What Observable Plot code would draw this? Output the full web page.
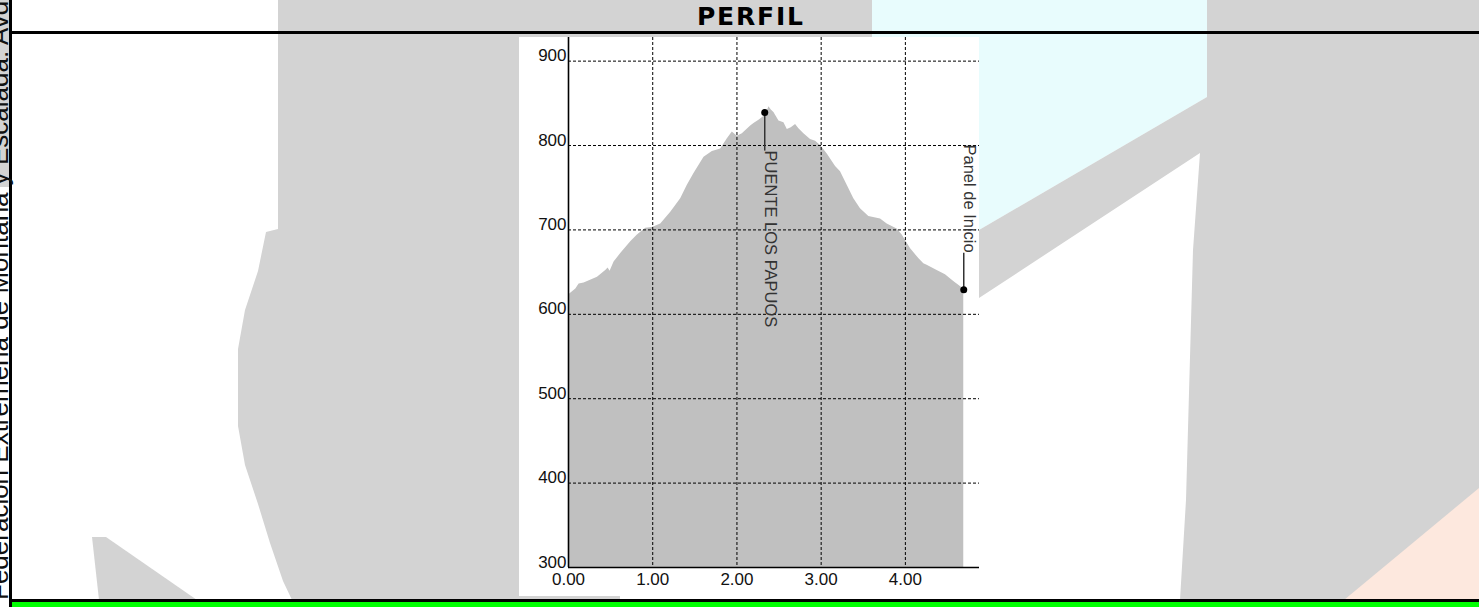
<!DOCTYPE html>
<html>
<head>
<meta charset="utf-8">
<script src="https://cdn.jsdelivr.net/npm/d3@7"></script>
<script src="https://cdn.jsdelivr.net/npm/@observablehq/plot@0.6"></script>
<style>
  html, body { margin: 0; padding: 0; background: #ffffff; }
  body { width: 1479px; height: 607px; position: relative; overflow: hidden; }
  #bg { position: absolute; left: 0; top: 0; }
  #chart { position: absolute; left: 519px; top: 37px; }
</style>
</head>
<body>
<svg id="bg" width="1479" height="607" xmlns="http://www.w3.org/2000/svg">
  <rect x="0" y="0" width="9" height="187" fill="#d3d3d3"/>
  <polygon fill="#d3d3d3" points="278,0 872,0 872,40 620,40 620,600 292,600 283,581 270,543 258,504 245,465 238,426 238,349 245,310 258,271 266,232 278,229"/>
  <polygon fill="#d3d3d3" points="92,537 106,537 197,600 99,600"/>
  <polygon fill="#e8fcfd" points="872,0 1207,0 1207,97 979,230 872,230"/>
  <polygon fill="#d3d3d3" points="1207,0 1479,0 1479,600 1180,600 1186,500 1193,250 1200,153 979,298 979,230 1207,97"/>
  <polygon fill="#fde8de" points="1479,488 1479,600 1344,600"/>
  <text x="697" y="25" font-family="'DejaVu Sans', Verdana, sans-serif" font-weight="bold" font-size="25" letter-spacing="1.8" fill="#000">PERFIL</text>
  <rect x="9" y="31" width="1470" height="3" fill="#000"/>
  <rect x="9" y="599" width="1470" height="3" fill="#000"/>
  <rect x="12" y="602" width="1467" height="5" fill="#00ff00"/>
  <rect x="9" y="0" width="3" height="607" fill="#000"/>
  <text transform="translate(8,600) rotate(-90)" font-family="'Liberation Sans', Arial, sans-serif" font-size="26" fill="#111">Federación Extremeña de Montaña y Escalada. Avd. Pierre de Coubertin s/n</text>
</svg>
<div id="chart"></div>
<script>
// Profile: distance (km) and elevation (m)
const distanceKm = [0, 0.087, 0.126, 0.185, 0.344, 0.442, 0.47, 0.494, 0.541, 0.62, 0.739, 0.818, 0.917, 0.996, 1.095, 1.214, 1.332, 1.411, 1.49, 1.609, 1.708, 1.807, 1.886, 1.945, 2.004, 2.064, 2.163, 2.202, 2.261, 2.34, 2.38, 2.408, 2.439, 2.499, 2.558, 2.598, 2.645, 2.696, 2.736, 2.795, 2.874, 2.934, 2.993, 3.072, 3.171, 3.23, 3.309, 3.388, 3.467, 3.566, 3.705, 3.784, 3.902, 3.962, 4.06, 4.159, 4.219, 4.258, 4.377, 4.476, 4.574, 4.693];
const elevationM = [623, 630, 636, 637, 644, 652, 655, 651, 662, 672, 686, 694, 702, 703, 707, 721, 737, 753, 767, 786, 793, 796, 808, 816, 811, 814, 823, 826, 830, 836, 846, 842, 839, 829, 827, 819, 821, 825, 820, 814, 807, 805, 800, 790, 775, 769, 753, 737, 725, 716, 713, 707, 701, 694, 678, 666, 660, 658, 652, 647, 639, 630];

// Waypoints
const waypointNames = ["PUENTE LOS PAPUOS", "Panel de Inicio"];
const waypointDistance = [2.33, 4.693];
const waypointElevation = [839, 629];
const waypointLabelElevation = [794, 673];

// Axes
const xDomain = [0, 4.88];
const yDomain = [300, 928];
const xTicks = [0, 1, 2, 3, 4];
const yTicks = [300, 400, 500, 600, 700, 800, 900];

const profile = distanceKm.map((d, i) => ({d, e: elevationM[i]}));
const waypoints = waypointNames.map((name, i) => ({
  name, x: waypointDistance[i], y: waypointElevation[i], ly: waypointLabelElevation[i]
}));
const xGrid = xTicks.filter(t => t !== xDomain[0]);
const yGrid = yTicks.filter(t => t !== yDomain[0]);
const fmt = d3.format(".2f");
const font = "'Liberation Sans', Arial, sans-serif";

const chart = Plot.plot({
  width: 460,
  height: 559,
  marginLeft: 49,
  marginRight: 0,
  marginTop: 0,
  marginBottom: 29,
  x: {domain: xDomain, axis: null},
  y: {domain: yDomain, axis: null},
  style: {background: "white", fontFamily: font, color: "black", overflow: "visible"},
  marks: [
    Plot.areaY(profile, {x: "d", y1: yDomain[0], y2: "e", fill: "#c0c0c0", curve: "linear"}),
    Plot.ruleY(yGrid, {stroke: "black", strokeWidth: 1, strokeDasharray: "3,2"}),
    Plot.ruleX(xGrid, {stroke: "black", strokeWidth: 1, strokeDasharray: "3,2"}),
    Plot.ruleX([xDomain[0]], {stroke: "black", strokeWidth: 1.6}),
    Plot.ruleY([yDomain[0]], {stroke: "black", strokeWidth: 1.6}),
    Plot.text(yTicks, {x: xDomain[0], y: d => d, text: d => String(d), textAnchor: "end", lineAnchor: "bottom", dx: -2, fontSize: 17, fill: "#111"}),
    Plot.text(xTicks, {x: d => d, y: yDomain[0], text: d => fmt(d), lineAnchor: "top", dy: 5, fontSize: 17, fill: "#111"}),
    Plot.link(waypoints, {x1: "x", y1: "y", x2: "x", y2: "ly", stroke: "#333", strokeWidth: 1.5}),
    Plot.dot(waypoints, {x: "x", y: "y", r: 3.5, fill: "black", stroke: "none"}),
    Plot.text(waypoints.filter(w => w.ly < w.y), {x: "x", y: "ly", text: "name", rotate: 90, textAnchor: "start", lineAnchor: "bottom", fontSize: 16.5, fill: "#333"}),
    Plot.text(waypoints.filter(w => w.ly >= w.y), {x: "x", y: "ly", text: "name", rotate: 90, textAnchor: "end", lineAnchor: "bottom", fontSize: 16.5, fill: "#333"})
  ]
});
document.getElementById("chart").appendChild(chart);
</script>
</body>
</html>
